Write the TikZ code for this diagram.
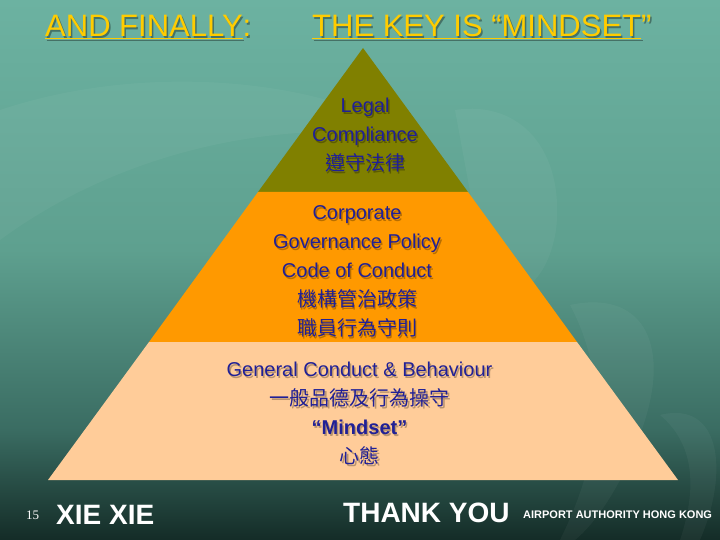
\documentclass[tikz,border=0pt]{standalone}
\usepackage{fontspec}
\setmainfont{Liberation Sans}
\newfontfamily\cjk{Noto Sans CJK TC}
\newfontfamily\tms{Liberation Serif}
\definecolor{bgA}{RGB}{108,178,161}
\definecolor{bgB}{RGB}{94,160,143}
\definecolor{bgC}{RGB}{58,108,98}
\definecolor{bgD}{RGB}{20,44,39}
\definecolor{olive}{RGB}{128,128,0}
\definecolor{orng}{RGB}{255,153,0}
\definecolor{peach}{RGB}{255,204,153}
\definecolor{txtblue}{RGB}{32,32,150}
\definecolor{ttlyellow}{RGB}{255,204,0}
\tikzset{
  tier/.style={draw=none},
  ptext/.style={align=center, text=txtblue, font=\fontsize{20}{29}\selectfont},
  pshadow/.style={align=center, text=black, opacity=0.28, font=\fontsize{20}{29}\selectfont},
  title/.style={text=ttlyellow, font=\fontsize{31}{36}\selectfont, anchor=base west, inner sep=0pt},
  tshadow/.style={text=black, opacity=0.35, font=\fontsize{31}{36}\selectfont, anchor=base west, inner sep=0pt},
  foot/.style={text=white, font=\bfseries\fontsize{28}{32}\selectfont, anchor=base west, inner sep=0pt},
  blob/.style={fill=white, fill opacity=0.04, draw=none}
}
\begin{document}
\begin{tikzpicture}[x=1pt,y=-1pt]
\useasboundingbox (0,0) rectangle (720,540);
% background
\shade[top color=bgA, bottom color=bgB] (0,0) rectangle (720,250.5);
\shade[top color=bgB, bottom color=bgC] (0,250) rectangle (720,430.5);
\shade[top color=bgC, bottom color=bgD] (0,430) rectangle (720,540);
% faint background blobs
\fill[blob] (0,110) .. controls (150,60) and (330,80) .. (420,140) .. controls (330,120) and (150,130) .. (0,240) -- cycle;
\fill[blob] (455,110) .. controls (520,100) and (565,150) .. (556,230) .. controls (548,280) and (520,300) .. (490,300) -- cycle;
\fill[blob] (570,305) .. controls (640,290) and (670,340) .. (645,420) .. controls (630,470) and (600,520) .. (575,540) -- (560,540) .. controls (600,460) and (610,380) .. (570,305) -- cycle;
\fill[blob] (660,415) .. controls (720,400) and (730,470) .. (700,540) -- (680,540) .. controls (700,480) and (690,440) .. (660,415) -- cycle;
% pyramid
\coordinate (apex) at (363,48);
\coordinate (l1) at (258,192); \coordinate (r1) at (468,192);
\coordinate (l2) at (149,342); \coordinate (r2) at (577,342);
\coordinate (l3) at (48,480);  \coordinate (r3) at (678,480);
\fill[tier, olive] (apex) -- (r1) -- (l1) -- cycle;
\fill[tier, orng] (l1) -- (r1) -- (r2) -- (l2) -- cycle;
\fill[tier, peach] (l2) -- (r2) -- (r3) -- (l3) -- cycle;
% pyramid texts
\node[pshadow] (legal-s) at (366.5,137) {Legal\\Compliance\\{\cjk 遵守法律}};
\node[ptext] (legal) at (365,135.5) {Legal\\Compliance\\{\cjk 遵守法律}};
\node[pshadow] (corp-s) at (358.5,273) {Corporate\\Governance Policy\\Code of Conduct\\{\cjk 機構管治政策}\\{\cjk 職員行為守則}};
\node[ptext] (corp) at (357,271.5) {Corporate\\Governance Policy\\Code of Conduct\\{\cjk 機構管治政策}\\{\cjk 職員行為守則}};
\node[pshadow] (gen-s) at (361,415) {General Conduct \& Behaviour\\{\cjk 一般品德及行為操守}\\\textbf{“Mindset”}\\{\cjk 心態}};
\node[ptext] (gen) at (359.5,413.5) {General Conduct \& Behaviour\\{\cjk 一般品德及行為操守}\\\textbf{“Mindset”}\\{\cjk 心態}};
% titles
\node[tshadow] (t1-s) at (46.5,38.5) {\underline{AND FINALLY}:};
\node[title] (t1) at (45,37) {\underline{AND FINALLY}:};
\node[tshadow] (t2-s) at (313.5,38.5) {\underline{THE KEY IS “MINDSET}”};
\node[title] (t2) at (312,37) {\underline{THE KEY IS “MINDSET}”};
% footer
\node[text=white, font=\tms\fontsize{13}{15}\selectfont, anchor=base west, inner sep=0pt] (pg) at (26,519) {15};
\node[foot] (xie) at (56,524) {XIE XIE};
\node[foot] (thanks) at (343,522) {THANK YOU};
\node[text=white, font=\bfseries\fontsize{11}{13}\selectfont, anchor=base west, inner sep=0pt] (aa) at (523,518) {AIRPORT AUTHORITY HONG KONG};
\end{tikzpicture}
\end{document}
